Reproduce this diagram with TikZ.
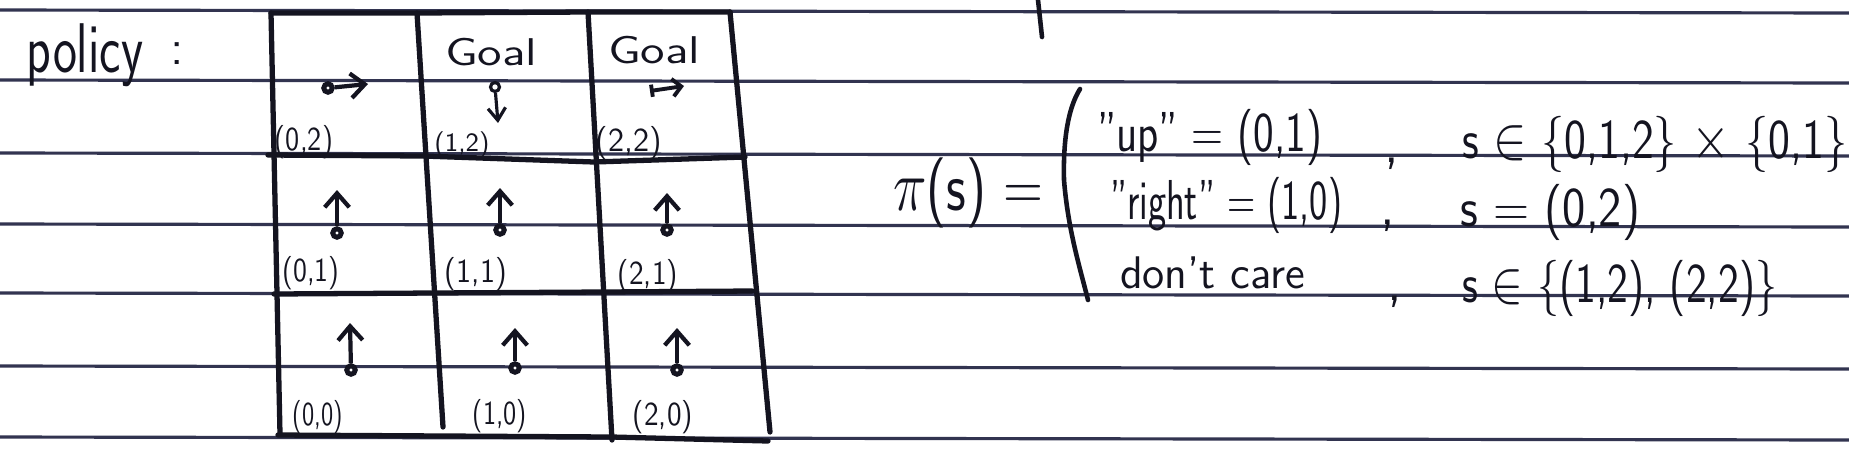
\documentclass[tikz,border=0pt]{standalone}
\usepackage{graphicx}
\usetikzlibrary{arrows.meta}
\definecolor{ink}{RGB}{20,20,32}
\definecolor{rulecol}{RGB}{50,52,80}
\newcommand\fitw[2]{\resizebox{#1}{\height}{#2}}
\begin{document}
\begin{tikzpicture}[x=0.01cm,y=-0.01cm,
  paper/.style={rulecol, line width=0.9pt},
  gridline/.style={ink, line width=1.5pt, line cap=round, line join=round},
  hand/.style={text=ink, inner sep=0pt, outer sep=0pt},
  lbl/.style={hand, font=\sffamily\fontsize{9.5}{11}\selectfont},
  dotnode/.style={circle, draw=ink, fill=white, line width=1.4pt, minimum size=0.085cm, inner sep=0pt},
  ringnode/.style={circle, draw=ink, fill=white, line width=0.9pt, minimum size=0.09cm, inner sep=0pt},
  pol/.style={ink, line width=1.2pt, -{Straight Barb[length=4pt, width=7pt]}},
  smallpol/.style={ink, line width=0.9pt, -{Straight Barb[length=3.5pt, width=5pt]}},
  barpol/.style={ink, line width=1.1pt, {Bar[width=3.5pt]}-{Straight Barb[length=2.5pt, width=5pt]}},
  stroke/.style={ink, line width=1.3pt, line cap=round}
]
\useasboundingbox (0,0) rectangle (1849,472);
\fill[white] (0,0) rectangle (1849,472);
% ruled paper
\foreach \yy in {10,80,153,224,293,366,437}
  \draw[paper] (0,\yy) -- (1849,\yy+3);

% grid corners
\coordinate (t0) at (271,13);  \coordinate (t1) at (417,13);
\coordinate (t2) at (588,12);  \coordinate (t3) at (730,12);
\coordinate (b0) at (280,434); \coordinate (b1) at (443,427);
\coordinate (b2) at (612,440); \coordinate (b3) at (770,432);
\coordinate (r10) at (268,155); \coordinate (r11) at (423,156);
\coordinate (r12) at (594,162); \coordinate (r13) at (745,157);
\coordinate (r20) at (274,294); \coordinate (r21) at (433,293);
\coordinate (r22) at (603,292); \coordinate (r23) at (752,291);
\coordinate (q0) at (278,435); \coordinate (q2) at (612,437); \coordinate (q3) at (768,441);

\draw[gridline] (t0) -- (t1) -- (t2) -- (t3);
\draw[gridline] (t0) -- (b0);
\draw[gridline] (t1) -- (b1);
\draw[gridline] (t2) -- (b2);
\draw[gridline] (t3) -- (b3);
\draw[gridline] (r10) -- (r11) -- (r12) -- (r13);
\draw[gridline] (r20) -- (r21) -- (r22) -- (r23);
\draw[gridline] (q0) -- (q2) -- (q3);

% policy label
\node[hand, anchor=base west, font=\sffamily\fontsize{20}{24}\selectfont] (policy) at (27,72) {\fitw{1.16cm}{policy}};
\node[hand, anchor=base, font=\sffamily\fontsize{14}{16}\selectfont] (colon) at (177,64) {:};

% Goal labels
\node[hand, anchor=base west, font=\sffamily\fontsize{11}{13}\selectfont] (goal1) at (445,65) {\fitw{0.92cm}{Goal}};
\node[hand, anchor=base west, font=\sffamily\fontsize{11}{13}\selectfont] (goal2) at (608,63) {\fitw{0.92cm}{Goal}};

% cell labels
\node[lbl] (c02) at (304,142) {\fitw{0.58cm}{(0,2)}};
\node[lbl, font=\sffamily\fontsize{7.5}{9}\selectfont] (c12) at (462,145) {\fitw{0.55cm}{(1,2)}};
\node[lbl] (c22) at (629,143) {\fitw{0.66cm}{(2,2)}};
\node[lbl] (c01) at (311,273) {\fitw{0.57cm}{(0,1)}};
\node[lbl] (c11) at (476,274) {\fitw{0.62cm}{(1,1)}};
\node[lbl] (c21) at (648,276) {\fitw{0.60cm}{(2,1)}};
\node[lbl] (c00) at (318,417) {\fitw{0.50cm}{(0,0)}};
\node[lbl] (c10) at (500,416) {\fitw{0.54cm}{(1,0)}};
\node[lbl] (c20) at (663,417) {\fitw{0.60cm}{(2,0)}};

% policy arrows
\node[dotnode] (d02) at (328,88) {};  \coordinate (h02) at (368,84);
\node[ringnode] (d12) at (495,87) {}; \coordinate (h12) at (498,123);
\coordinate (s22) at (650,91); \coordinate (h22) at (684,86);
\node[dotnode] (d01) at (337,233) {}; \coordinate (h01) at (337,190);
\node[dotnode] (d11) at (500,230) {}; \coordinate (h11) at (500,188);
\node[dotnode] (d21) at (667,230) {}; \coordinate (h21) at (667,193);
\node[dotnode] (d00) at (351,370) {}; \coordinate (h00) at (350,323);
\node[dotnode] (d10) at (515,368) {}; \coordinate (h10) at (515,328);
\node[dotnode] (d20) at (677,370) {}; \coordinate (h20) at (677,328);

\draw[pol] (d02) -- (h02);
\draw[smallpol] (d12) -- (h12);
\draw[barpol] (s22) -- (h22);
\draw[pol] (d01) -- (h01);
\draw[pol] (d11) -- (h11);
\draw[pol] (d21) -- (h21);
\draw[pol] (d00) -- (h00);
\draw[pol] (d10) -- (h10);
\draw[pol] (d20) -- (h20);

% cut-off stroke at the top
\coordinate (k0) at (1038,0); \coordinate (k1) at (1042,37);
\draw[stroke] (k0) -- (k1);

% pi(s) =
\node[hand, anchor=base west, font=\sffamily\fontsize{20}{24}\selectfont] (pis) at (893,210) {\fitw{1.50cm}{$\pi$(s) =}};
% case bracket
\coordinate (br0) at (1080,89); \coordinate (br1) at (1064,180); \coordinate (br2) at (1088,300);
\draw[stroke] (br0) .. controls (1068,108) and (1063,140) .. (br1) .. controls (1068,230) and (1080,268) .. (br2);

% cases
\node[hand, anchor=base west, font=\sffamily\fontsize{16}{19}\selectfont] (a1) at (1097,151) {\fitw{2.25cm}{"up" = (0,1)}};
\node[hand, anchor=base west, font=\sffamily\fontsize{16}{19}\selectfont] (a2) at (1110,219) {\fitw{2.32cm}{"right" = (1,0)}};
\node[hand, anchor=base west, font=\sffamily\fontsize{13}{16}\selectfont] (a3) at (1120,288) {\fitw{1.85cm}{don't care}};

\node[hand, anchor=base, font=\sffamily\fontsize{16}{19}\selectfont] (m1) at (1392,162) {,};
\node[hand, anchor=base, font=\sffamily\fontsize{16}{19}\selectfont] (m2) at (1388,224) {,};
\node[hand, anchor=base, font=\sffamily\fontsize{16}{19}\selectfont] (m3) at (1395,300) {,};

\node[hand, anchor=base west, font=\sffamily\fontsize{16}{19}\selectfont] (s1) at (1462,158) {\fitw{3.85cm}{s $\in$ \{0,1,2\} $\times$ \{0,1\}}};
\node[hand, anchor=base west, font=\sffamily\fontsize{16}{19}\selectfont] (s2) at (1460,226) {\fitw{1.80cm}{s = (0,2)}};
\node[hand, anchor=base west, font=\sffamily\fontsize{16}{19}\selectfont] (s3) at (1462,302) {\fitw{3.15cm}{s $\in$ \{(1,2), (2,2)\}}};
\end{tikzpicture}
\end{document}
